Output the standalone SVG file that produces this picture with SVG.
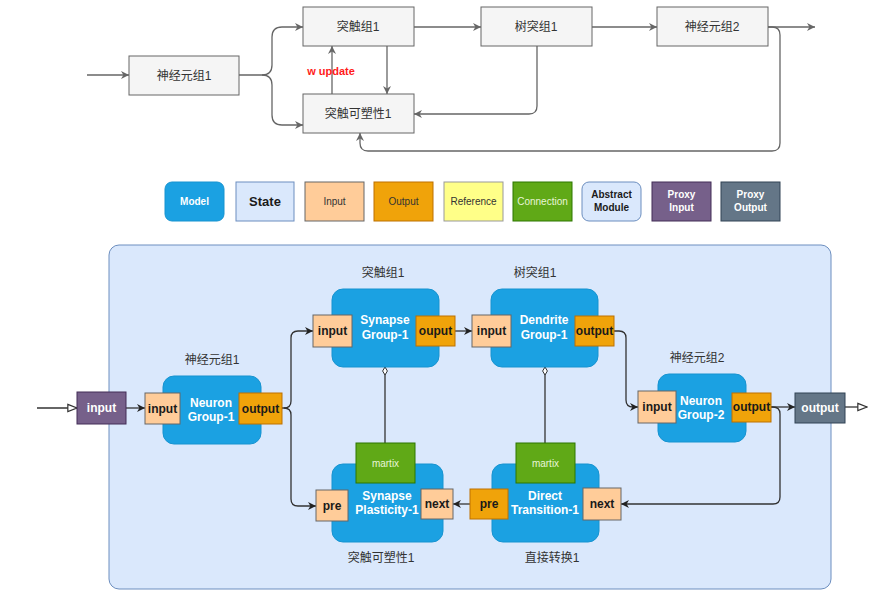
<svg xmlns="http://www.w3.org/2000/svg" width="881" height="613" viewBox="0 0 881 613">
<style>
text{font-family:"Liberation Sans","Noto Sans CJK SC",sans-serif}
.tb{fill:#f5f5f5;stroke:#666;stroke-width:1}
.tt{font-size:12px;fill:#333;text-anchor:middle}
.tl{fill:none;stroke:#666;stroke-width:1.3}
.model{fill:#1ba1e2;stroke:#1793d0;stroke-width:1}
.mt{font-size:12px;font-weight:bold;fill:#fff;text-anchor:middle}
.pin{fill:#ffcc99;stroke:#666;stroke-width:1}
.pout{fill:#f0a30a;stroke:#bd7000;stroke-width:1}
.pt{font-size:12px;font-weight:bold;fill:#1a1a1a;text-anchor:middle}
.conn{fill:#60a917;stroke:#2d7600;stroke-width:1}
.ct{font-size:10px;fill:#e8f5d8;text-anchor:middle}
.cl{font-size:12px;fill:#333;text-anchor:middle}
.ll{fill:none;stroke:#333;stroke-width:1.3}
.lg{font-size:10px;text-anchor:middle}
</style>
<defs>
<marker id="ga" viewBox="0 0 10 10" refX="10" refY="5" markerWidth="8" markerHeight="8" markerUnits="userSpaceOnUse" orient="auto"><path d="M0,0 L10,5 L0,10 L3,5 z" fill="#666"/></marker>
<marker id="ba" viewBox="0 0 10 10" refX="10" refY="5" markerWidth="8" markerHeight="8" markerUnits="userSpaceOnUse" orient="auto"><path d="M0,0 L10,5 L0,10 L3,5 z" fill="#222"/></marker>
<marker id="oa" viewBox="0 0 12 10" refX="11" refY="5" markerWidth="11" markerHeight="10" markerUnits="userSpaceOnUse" orient="auto"><path d="M1,1 L11,5 L1,9 z" fill="#fff" stroke="#333" stroke-width="1.3"/></marker>
<marker id="od" viewBox="0 0 9 6" refX="0.5" refY="3" markerWidth="9" markerHeight="6" markerUnits="userSpaceOnUse" orient="auto"><path d="M0.5,3 L4.5,0.6 L8.5,3 L4.5,5.4 z" fill="#fff" stroke="#333" stroke-width="1"/></marker>
</defs>

<!-- Top overview -->
<g id="top-connectors">
<path class="tl" d="M87,75 L129,75" marker-end="url(#ga)"/>
<path class="tl" d="M239,75 L262,75 Q272,75 272,65 L272,37 Q272,27 282,27 L303,27" marker-end="url(#ga)"/>
<path class="tl" d="M262,75 Q272,75 272,85 L272,115 Q272,125 282,125 L303,125" marker-end="url(#ga)"/>
<path class="tl" d="M414,27 L481,27" marker-end="url(#ga)"/>
<path class="tl" d="M592,27 L657,27" marker-end="url(#ga)"/>
<path class="tl" d="M768,27 L815,27" marker-end="url(#ga)"/>
<path class="tl" d="M387,46 L387,94" marker-end="url(#ga)"/>
<path class="tl" d="M332,94 L332,46" marker-end="url(#ga)"/>
<path class="tl" d="M537,46 L537,106 Q537,114 529,114 L414,114" marker-end="url(#ga)"/>
<path class="tl" d="M768,27 L772,27 Q780,27 780,35 L780,143 Q780,151 772,151 L368,151 Q360,151 360,143 L360,133" marker-end="url(#ga)"/>
<text x="331" y="75" font-size="11" font-weight="bold" fill="#ff1a1a" text-anchor="middle">w update</text>
</g>
<g id="t-ng1"><rect class="tb" x="129" y="56" width="110" height="39"/><text class="tt" x="184" y="80">神经元组1</text></g>
<g id="t-sg1"><rect class="tb" x="303" y="7" width="111" height="39"/><text class="tt" x="358" y="31">突触组1</text></g>
<g id="t-sp1"><rect class="tb" x="303" y="94" width="111" height="39"/><text class="tt" x="358" y="118">突触可塑性1</text></g>
<g id="t-dg1"><rect class="tb" x="481" y="7" width="111" height="39"/><text class="tt" x="536" y="31">树突组1</text></g>
<g id="t-ng2"><rect class="tb" x="657" y="7" width="111" height="39"/><text class="tt" x="712" y="31">神经元组2</text></g>

<!-- Legend -->
<g id="legend">
<g id="lg-model"><rect x="165" y="182" width="59" height="39" rx="7" fill="#1ba1e2" stroke="#1793d0"/><text class="lg" x="194.5" y="205" font-weight="bold" fill="#fff">Model</text></g>
<g id="lg-state"><rect x="236" y="182" width="58" height="39" fill="#dae8fc" stroke="#6c8ebf"/><text x="265" y="206" font-size="13" font-weight="bold" fill="#1a1a1a" text-anchor="middle">State</text></g>
<g id="lg-input"><rect x="305" y="182" width="59" height="39" fill="#ffcc99" stroke="#666"/><text class="lg" x="334.5" y="205" fill="#333">Input</text></g>
<g id="lg-output"><rect x="374" y="182" width="59" height="39" fill="#f0a30a" stroke="#bd7000"/><text class="lg" x="403.5" y="205" fill="#333">Output</text></g>
<g id="lg-ref"><rect x="444" y="182" width="59" height="39" fill="#ffff88" stroke="#999"/><text class="lg" x="473.5" y="205" fill="#333">Reference</text></g>
<g id="lg-conn"><rect x="513" y="182" width="59" height="39" fill="#60a917" stroke="#2d7600"/><text class="lg" x="542.5" y="205" fill="#e8f5d8">Connection</text></g>
<g id="lg-abs"><rect x="582" y="182" width="59" height="39" rx="7" fill="#dae8fc" stroke="#6c8ebf"/><text class="lg" x="611.5" y="198" font-weight="bold" fill="#1a1a1a">Abstract</text><text class="lg" x="611.5" y="211" font-weight="bold" fill="#1a1a1a">Module</text></g>
<g id="lg-pin"><rect x="652" y="182" width="59" height="39" fill="#76608a" stroke="#432d57"/><text class="lg" x="681.5" y="198" font-weight="bold" fill="#fff">Proxy</text><text class="lg" x="681.5" y="211" font-weight="bold" fill="#fff">Input</text></g>
<g id="lg-pout"><rect x="721" y="182" width="59" height="39" fill="#647687" stroke="#314354"/><text class="lg" x="750.5" y="198" font-weight="bold" fill="#fff">Proxy</text><text class="lg" x="750.5" y="211" font-weight="bold" fill="#fff">Output</text></g>
</g>

<!-- Main model container -->
<g id="container"><rect x="109" y="245" width="722" height="344" rx="10" fill="#dae8fc" stroke="#6c8ebf" stroke-width="1"/></g>

<g id="connectors">
<path class="ll" d="M37,408 L77,408" marker-end="url(#oa)"/>
<path class="ll" d="M126,408 L145,408" marker-end="url(#ba)"/>
<path class="ll" d="M282,408 L284,408 Q291,408 291,401 L291,338 Q291,331 298,331 L313,331" marker-end="url(#ba)"/>
<path class="ll" d="M284,408 Q291,408 291,415 L291,499 Q291,506 298,506 L316,506" marker-end="url(#ba)"/>
<path class="ll" d="M455,331 L472,331" marker-end="url(#ba)"/>
<path class="ll" d="M614,331 L619,331 Q626,331 626,338 L626,400 Q626,407 633,407 L638,407" marker-end="url(#ba)"/>
<path class="ll" d="M771,407 L795,407" marker-end="url(#ba)"/>
<path class="ll" d="M845,407 L867,407" marker-end="url(#oa)"/>
<path class="ll" d="M771,407 L773,407 Q780,407 780,414 L780,497 Q780,504 773,504 L621,504" marker-end="url(#ba)"/>
<path class="ll" d="M470,504 L453,504" marker-end="url(#ba)"/>
<path class="ll" d="M385,367 L385,443" marker-start="url(#od)"/>
<path class="ll" d="M545,367 L545,443" marker-start="url(#od)"/>
</g>

<g id="proxy-input"><rect x="77" y="392" width="49" height="32" fill="#76608a" stroke="#432d57"/><text x="101.5" y="412" font-size="12" font-weight="bold" fill="#fff" text-anchor="middle">input</text></g>

<g id="neuron-group-1">
<text class="cl" x="212" y="364">神经元组1</text>
<rect class="model" x="163" y="376" width="98" height="68" rx="11"/>
<text class="mt" x="211" y="407">Neuron</text><text class="mt" x="211" y="421">Group-1</text>
<rect class="pin" x="145" y="393" width="35" height="31"/><text class="pt" x="162.5" y="413">input</text>
<rect class="pout" x="239" y="393" width="43" height="31"/><text class="pt" x="260.5" y="413">output</text>
</g>

<g id="synapse-group-1">
<text class="cl" x="383" y="277">突触组1</text>
<rect class="model" x="332" y="289" width="107" height="78" rx="11"/>
<text class="mt" x="385" y="324">Synapse</text><text class="mt" x="385" y="339">Group-1</text>
<rect class="pin" x="313" y="315" width="39" height="32"/><text class="pt" x="332.5" y="335">input</text>
<rect class="pout" x="416" y="316" width="39" height="30"/><text class="pt" x="435.5" y="335">ouput</text>
</g>

<g id="dendrite-group-1">
<text class="cl" x="535" y="277">树突组1</text>
<rect class="model" x="491" y="289" width="107" height="78" rx="11"/>
<text class="mt" x="544" y="324">Dendrite</text><text class="mt" x="544" y="339">Group-1</text>
<rect class="pin" x="472" y="315" width="39" height="32"/><text class="pt" x="491.5" y="335">input</text>
<rect class="pout" x="575" y="316" width="39" height="30"/><text class="pt" x="594.5" y="335">output</text>
</g>

<g id="neuron-group-2">
<text class="cl" x="697" y="362">神经元组2</text>
<rect class="model" x="658" y="374" width="88" height="68" rx="11"/>
<text class="mt" x="701" y="405">Neuron</text><text class="mt" x="701" y="419">Group-2</text>
<rect class="pin" x="638" y="391" width="38" height="32"/><text class="pt" x="657" y="411">input</text>
<rect class="pout" x="732" y="393" width="39" height="29"/><text class="pt" x="751.5" y="411">output</text>
</g>

<g id="proxy-output"><rect x="795" y="393" width="50" height="30" fill="#647687" stroke="#314354"/><text x="820" y="412" font-size="12" font-weight="bold" fill="#fff" text-anchor="middle">output</text></g>

<g id="synapse-plasticity-1">
<rect class="model" x="332" y="464" width="111" height="78" rx="11"/>
<rect class="conn" x="356" y="443" width="59" height="40"/><text class="ct" x="385.5" y="467">martix</text>
<text class="mt" x="387" y="500">Synapse</text><text class="mt" x="387" y="514">Plasticity-1</text>
<rect class="pin" x="316" y="490" width="32" height="31"/><text class="pt" x="332" y="510">pre</text>
<rect class="pin" x="421" y="489" width="32" height="30"/><text class="pt" x="437" y="508">next</text>
<text class="cl" x="381" y="562">突触可塑性1</text>
</g>

<g id="direct-transition-1">
<rect class="model" x="492" y="464" width="107" height="78" rx="11"/>
<rect class="conn" x="516" y="443" width="59" height="40"/><text class="ct" x="545.5" y="467">martix</text>
<text class="mt" x="545" y="500">Direct</text><text class="mt" x="545" y="514">Transition-1</text>
<rect class="pout" x="470" y="489" width="38" height="30"/><text class="pt" x="489" y="508">pre</text>
<rect class="pin" x="583" y="488" width="38" height="32"/><text class="pt" x="602" y="508">next</text>
<text class="cl" x="552" y="562">直接转换1</text>
</g>
</svg>
